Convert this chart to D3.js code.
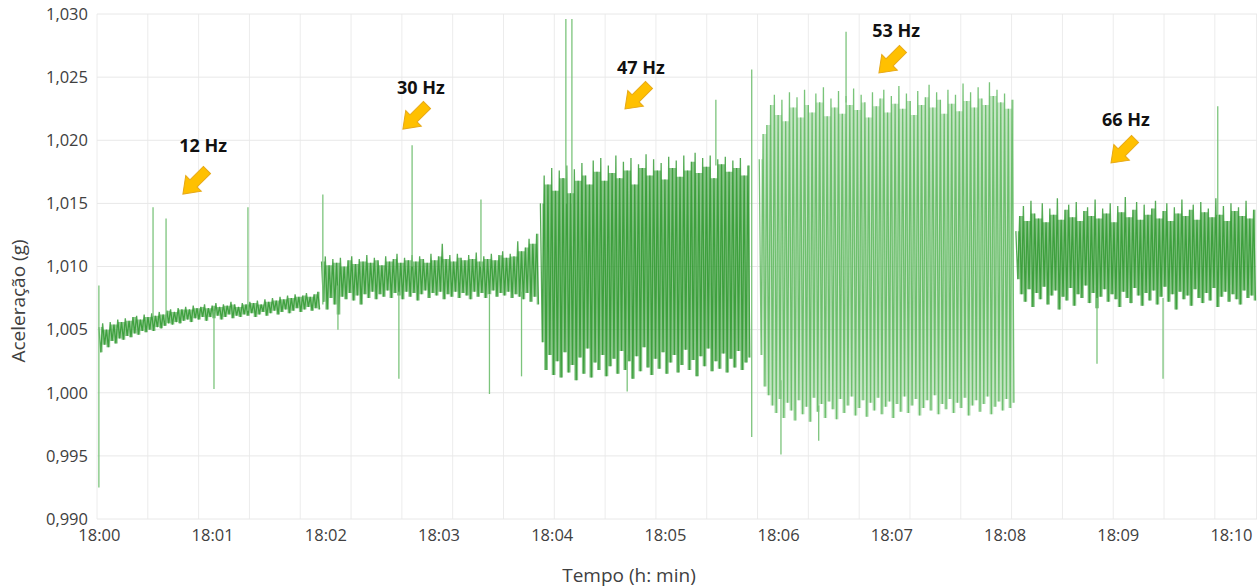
<!DOCTYPE html>
<html>
<head>
<meta charset="utf-8">
<title>Aceleração</title>
<script src="https://d3js.org/d3.v7.min.js"></script>
<style>
  body { margin: 0; background: #fff; }
  text { font-family: "Open Sans", sans-serif; }
</style>
</head>
<body>
<svg width="1259" height="587"></svg>

<script>
// time is in seconds after 18:00:00
var xTickLabels = ["18:00","18:01","18:02","18:03","18:04","18:05","18:06","18:07","18:08","18:09","18:10"];
var yTicks = [0.990, 0.995, 1.000, 1.005, 1.010, 1.015, 1.020, 1.025, 1.030];

// each segment: peak (hi) at start+2i, trough (lo) at start+2i+1
var segNames = ["12 Hz", "30 Hz", "47 Hz", "53 Hz", "66 Hz"];
var segStart = [0, 118, 234, 350, 486];

var hz12Hi = [1.0052,1.0055,1.0050,1.0056,1.0054,1.0058,1.0056,1.0059,1.0057,1.0060,
  1.0061,1.0058,1.0062,1.0060,1.0063,1.0061,1.0064,1.0062,1.0065,1.0066,
  1.0064,1.0067,1.0066,1.0068,1.0066,1.0069,1.0067,1.0068,1.0070,1.0067,
  1.0069,1.0071,1.0068,1.0070,1.0069,1.0072,1.0070,1.0068,1.0071,1.0070,
  1.0072,1.0071,1.0073,1.0070,1.0074,1.0072,1.0075,1.0073,1.0076,1.0074,
  1.0077,1.0075,1.0078,1.0076,1.0077,1.0079,1.0076,1.0078,1.0080];
var hz12Lo = [1.0032,1.0038,1.0036,1.0041,1.0039,1.0043,1.0042,1.0045,1.0044,1.0047,
  1.0046,1.0049,1.0048,1.0050,1.0049,1.0052,1.0051,1.0053,1.0055,1.0054,
  1.0056,1.0055,1.0057,1.0058,1.0056,1.0059,1.0058,1.0060,1.0057,1.0060,
  1.0059,1.0061,1.0058,1.0060,1.0062,1.0059,1.0061,1.0060,1.0062,1.0061,
  1.0063,1.0060,1.0062,1.0064,1.0061,1.0063,1.0065,1.0062,1.0064,1.0066,
  1.0063,1.0065,1.0067,1.0064,1.0066,1.0068,1.0065,1.0067,1.0066];

var hz30Hi = [1.0104,1.0108,1.0101,1.0106,1.0103,1.0107,1.0100,1.0105,1.0108,1.0102,
  1.0106,1.0104,1.0109,1.0103,1.0107,1.0105,1.0101,1.0108,1.0104,1.0106,
  1.0110,1.0103,1.0107,1.0105,1.0109,1.0104,1.0108,1.0106,1.0103,1.0110,
  1.0105,1.0108,1.0118,1.0106,1.0109,1.0104,1.0110,1.0107,1.0105,1.0109,
  1.0106,1.0111,1.0104,1.0108,1.0106,1.0110,1.0105,1.0109,1.0112,1.0107,
  1.0110,1.0108,1.0120,1.0112,1.0115,1.0122,1.0118,1.0126];
var hz30Lo = [1.0072,1.0066,1.0075,1.0070,1.0062,1.0076,1.0074,1.0079,1.0073,1.0077,
  1.0070,1.0078,1.0075,1.0080,1.0074,1.0078,1.0076,1.0081,1.0075,1.0079,
  1.0077,1.0074,1.0080,1.0076,1.0079,1.0073,1.0078,1.0081,1.0075,1.0079,
  1.0077,1.0080,1.0074,1.0078,1.0076,1.0080,1.0075,1.0079,1.0077,1.0074,
  1.0080,1.0076,1.0079,1.0075,1.0078,1.0081,1.0076,1.0079,1.0077,1.0080,
  1.0075,1.0078,1.0076,1.0074,1.0079,1.0072,1.0076,1.0070];

var hz47Hi = [1.0150,1.0172,1.0165,1.0178,1.0160,1.0176,1.0170,1.0180,1.0158,1.0177,
  1.0168,1.0182,1.0172,1.0165,1.0184,1.0175,1.0186,1.0168,1.0180,1.0174,
  1.0188,1.0170,1.0183,1.0176,1.0186,1.0165,1.0181,1.0178,1.0189,1.0172,
  1.0185,1.0176,1.0182,1.0169,1.0187,1.0178,1.0184,1.0171,1.0188,1.0176,
  1.0183,1.0190,1.0174,1.0186,1.0179,1.0188,1.0170,1.0185,1.0181,1.0187,
  1.0175,1.0184,1.0178,1.0186,1.0172,1.0180];
var hz47Lo = [1.0040,1.0018,1.0030,1.0014,1.0025,1.0012,1.0032,1.0016,1.0022,1.0010,
  1.0028,1.0015,1.0035,1.0012,1.0024,1.0018,1.0030,1.0013,1.0021,1.0027,
  1.0015,1.0033,1.0018,1.0025,1.0011,1.0029,1.0017,1.0036,1.0020,1.0014,
  1.0027,1.0019,1.0032,1.0015,1.0024,1.0030,1.0016,1.0022,1.0034,1.0018,
  1.0026,1.0013,1.0029,1.0021,1.0035,1.0017,1.0025,1.0019,1.0031,1.0016,
  1.0027,1.0020,1.0033,1.0018,1.0024,1.0028];

var hz53Hi = [1.0185,1.0205,1.0212,1.0228,1.0236,1.0220,1.0232,1.0215,1.0238,1.0226,
  1.0234,1.0218,1.0240,1.0228,1.0222,1.0237,1.0230,1.0242,1.0219,1.0233,
  1.0226,1.0239,1.0221,1.0235,1.0228,1.0241,1.0224,1.0236,1.0230,1.0218,
  1.0238,1.0227,1.0233,1.0240,1.0222,1.0235,1.0229,1.0243,1.0225,1.0237,
  1.0231,1.0220,1.0239,1.0228,1.0234,1.0244,1.0226,1.0238,1.0232,1.0221,
  1.0240,1.0229,1.0236,1.0223,1.0245,1.0231,1.0238,1.0226,1.0242,1.0233,
  1.0228,1.0246,1.0235,1.0240,1.0230,1.0237,1.0225,1.0232];
var hz53Lo = [1.0030,1.0005,0.9998,0.9990,0.9984,0.9995,0.9980,0.9992,0.9986,0.9978,
  0.9994,0.9983,0.9989,0.9977,0.9996,0.9985,0.9991,0.9980,0.9993,0.9987,
  0.9979,0.9995,0.9984,0.9990,0.9997,0.9982,0.9988,0.9994,0.9981,0.9992,
  0.9986,0.9996,0.9983,0.9989,0.9993,0.9980,0.9991,0.9985,0.9997,0.9984,
  0.9990,0.9995,0.9982,0.9988,0.9994,0.9986,0.9998,0.9983,0.9991,0.9987,
  0.9995,0.9984,0.9992,0.9988,0.9996,0.9982,0.9990,0.9994,0.9985,0.9991,
  0.9997,0.9983,0.9989,0.9993,0.9986,0.9995,0.9988,0.9992];

var hz66Hi = [1.0128,1.0140,1.0148,1.0136,1.0152,1.0142,1.0138,1.0150,1.0135,1.0146,
  1.0141,1.0154,1.0137,1.0145,1.0149,1.0139,1.0151,1.0136,1.0144,1.0147,
  1.0140,1.0153,1.0138,1.0146,1.0142,1.0150,1.0135,1.0148,1.0143,1.0155,
  1.0139,1.0145,1.0151,1.0137,1.0149,1.0141,1.0146,1.0152,1.0138,1.0144,
  1.0150,1.0136,1.0147,1.0142,1.0153,1.0140,1.0145,1.0149,1.0137,1.0151,
  1.0143,1.0146,1.0139,1.0154,1.0141,1.0148,1.0136,1.0150,1.0144,1.0147,
  1.0140,1.0152,1.0138,1.0145];
var hz66Lo = [1.0090,1.0078,1.0072,1.0082,1.0068,1.0079,1.0074,1.0084,1.0070,1.0077,
  1.0081,1.0066,1.0076,1.0073,1.0083,1.0069,1.0078,1.0075,1.0085,1.0071,
  1.0079,1.0067,1.0076,1.0082,1.0072,1.0078,1.0074,1.0068,1.0080,1.0075,
  1.0071,1.0083,1.0077,1.0069,1.0079,1.0073,1.0081,1.0070,1.0076,1.0084,
  1.0072,1.0078,1.0066,1.0080,1.0074,1.0077,1.0069,1.0082,1.0075,1.0071,
  1.0079,1.0073,1.0083,1.0068,1.0076,1.0080,1.0072,1.0078,1.0074,1.0070,
  1.0081,1.0075,1.0077,1.0073];

// isolated spikes
var spikeT  = [0, 28.7, 35.6, 61, 79, 118.7, 126.7, 159, 166, 202.5, 207, 224, 247.5, 250.7, 280, 327, 346, 361.5, 381.5, 396, 529, 564, 593];
var spikeLo = [0.9925, 1.0060, 1.0055, 1.0003, 1.0065, 1.0070, 1.0050, 1.0011, 1.0100, 1.0100, 0.9999, 1.0013, 1.0150, 1.0150, 1.0001, 1.0180, 0.9965, 0.9951, 0.9962, 1.0230, 1.0023, 1.0011, 1.0140];
var spikeHi = [1.0085, 1.0147, 1.0138, 1.0065, 1.0147, 1.0157, 1.0085, 1.0080, 1.0196, 1.0153, 1.0078, 1.0080, 1.0296, 1.0296, 1.0030, 1.0232, 1.0256, 1.0010, 0.9990, 1.0286, 1.0075, 1.0075, 1.0227];

// annotations
var noteText  = ["12 Hz", "30 Hz", "47 Hz", "53 Hz", "66 Hz"];
var noteT     = [55.3, 170.7, 287.3, 422.5, 544.3];
var noteV     = [1.01954, 1.02414, 1.02572, 1.02865, 1.02160];
var arrowT    = [50.9, 167.5, 285.2, 419.8, 542.8];
var arrowV    = [1.01669, 1.02184, 1.02343, 1.02628, 1.01915];

var segHi = [hz12Hi, hz30Hi, hz47Hi, hz53Hi, hz66Hi];
var segLo = [hz12Lo, hz30Lo, hz47Lo, hz53Lo, hz66Lo];
var segColor = ["#2b962b", "#2b962b", "#2b962b", "#58b558", "#2b962b"];
var segFill  = ["#3a9f3a", "#3a9f3a", "#3a9f3a", "#93cf93", "#3a9f3a"];
var fillOpacity = [0.55, 0.55, 0.6, 0.55, 0.6];

var svg = d3.select("svg");

var x = d3.scaleLinear().domain([-1, 613.8]).range([97, 1257]);
var y = d3.scaleLinear().domain([0.990, 1.030]).range([519, 14]);

// grid
var grid = svg.append("g").attr("class", "grid");
grid.selectAll(".vgrid")
  .data(d3.range(-1, 614, 26.93))
  .enter().append("line")
  .attr("x1", function(d) { return x(d); })
  .attr("x2", function(d) { return x(d); })
  .attr("y1", y(1.030)).attr("y2", y(0.990))
  .style("stroke", "#ececec").style("stroke-width", 1);
grid.append("line")
  .attr("x1", x(613.8) - 0.5).attr("x2", x(613.8) - 0.5)
  .attr("y1", y(1.030)).attr("y2", y(0.990))
  .style("stroke", "#ececec");
grid.selectAll(".hgrid")
  .data(yTicks)
  .enter().append("line")
  .attr("x1", 97).attr("x2", 1257)
  .attr("y1", function(d) { return y(d); })
  .attr("y2", function(d) { return y(d); })
  .style("stroke", "#e8e8e8").style("stroke-width", 1);

svg.append("clipPath").attr("id", "plot")
  .append("rect").attr("x", 97).attr("y", 14).attr("width", 1160).attr("height", 505);

var plot = svg.append("g").attr("clip-path", "url(#plot)");

var line = d3.line()
  .x(function(d) { return x(d[0]); })
  .y(function(d) { return y(d[1]); });

// inner band: the span covered by neighbouring peak and trough
var band = d3.area()
  .curve(d3.curveStep)
  .x(function(d) { return x(d.t); })
  .y0(function(d) { return y(d.lo); })
  .y1(function(d) { return y(d.hi); });

segNames.forEach(function(name, k) {
  var pts = [], rows = [];
  segHi[k].forEach(function(h, i) {
    var t = segStart[k] + 2 * i;
    pts.push([t, h]);
    pts.push([t + 1, segLo[k][i]]);
    var nextHi = i + 1 < segHi[k].length ? segHi[k][i + 1] : h;
    rows.push({ t: t + 1, lo: segLo[k][i], hi: Math.min(h, nextHi) });
  });
  plot.append("path")
    .datum(rows)
    .attr("d", band)
    .style("fill", segFill[k])
    .style("fill-opacity", fillOpacity[k]);
  plot.append("path")
    .datum(pts)
    .attr("d", line)
    .style("fill", "none")
    .style("stroke", segColor[k])
    .style("stroke-opacity", 0.8)
    .style("stroke-width", 1.3);
});

plot.selectAll(".spike")
  .data(spikeT)
  .enter().append("line")
  .attr("class", "spike")
  .attr("x1", function(d) { return x(d); })
  .attr("x2", function(d) { return x(d); })
  .attr("y1", function(d, i) { return y(spikeLo[i]); })
  .attr("y2", function(d, i) { return y(spikeHi[i]); })
  .style("stroke", "#7cc47c")
  .style("stroke-width", 1.3);

// axes
var xAxis = d3.axisBottom(x)
  .tickValues(xTickLabels.map(function(d, i) { return i * 60; }))
  .tickFormat(function(d, i) { return xTickLabels[i]; })
  .tickSize(0)
  .tickPadding(10);

svg.append("g")
  .attr("transform", "translate(0," + y(0.990) + ")")
  .call(xAxis)
  .call(function(g) { g.select(".domain").remove(); })
  .selectAll("text")
  .style("font-size", "16.5px")
  .style("fill", "#404040");

var yAxis = d3.axisLeft(y)
  .tickValues(yTicks)
  .tickFormat(function(d) { return d3.format(".3f")(d).replace(".", ","); })
  .tickSize(0)
  .tickPadding(9);

svg.append("g")
  .attr("transform", "translate(97,0)")
  .call(yAxis)
  .call(function(g) { g.select(".domain").remove(); })
  .selectAll("text")
  .style("font-size", "16.5px")
  .style("fill", "#404040");

svg.append("text")
  .attr("x", 629).attr("y", 582)
  .attr("text-anchor", "middle")
  .style("font-size", "19px")
  .style("fill", "#404040")
  .text("Tempo (h: min)");

svg.append("text")
  .attr("transform", "translate(25,301) rotate(-90)")
  .attr("text-anchor", "middle")
  .style("font-size", "19px")
  .style("fill", "#404040")
  .text("Aceleração (g)");

// frequency notes with arrows
var arrowPath = "M-17,-5 L2,-5 L2,-11 L17,0 L2,11 L2,5 L-17,5 Z";

svg.selectAll(".arrow")
  .data(arrowT)
  .enter().append("path")
  .attr("class", "arrow")
  .attr("d", arrowPath)
  .attr("transform", function(d, i) {
    return "translate(" + x(d) + "," + y(arrowV[i]) + ") rotate(135)";
  })
  .style("fill", "#ffc000")
  .style("stroke", "#e6a817")
  .style("stroke-width", 1);

svg.selectAll(".note")
  .data(noteText)
  .enter().append("text")
  .attr("class", "note")
  .attr("x", function(d, i) { return x(noteT[i]); })
  .attr("y", function(d, i) { return y(noteV[i]); })
  .attr("dy", "0.35em")
  .attr("text-anchor", "middle")
  .style("font-size", "18px")
  .style("font-weight", "bold")
  .style("fill", "#111")
  .text(function(d) { return d; });
</script>
</body>
</html>
